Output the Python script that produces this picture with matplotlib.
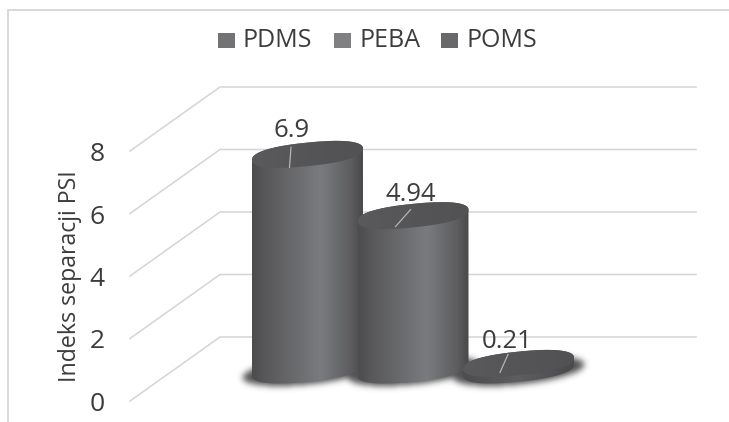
import numpy as np
import matplotlib
matplotlib.use('Agg')
import matplotlib.pyplot as plt
from matplotlib.colors import LinearSegmentedColormap
from matplotlib.patches import PathPatch, Rectangle
from matplotlib.path import Path

plt.rcParams['font.family'] = ['Open Sans', 'DejaVu Sans']

materials = ['PDMS', 'PEBA', 'POMS']
psi_values = [6.9, 4.94, 0.21]
value_labels = ['6.9', '4.94', '0.21']
y_ticks = [0, 2, 4, 6, 8]
legend_colors = ['#737375', '#808082', '#69696b']

W, H = 729, 422
PX_PER_CAT = 105.5    # odstep miedzy walcami
PX_PER_UNIT = 31.25   # piksele na jednostke PSI
ORIGIN_X, ORIGIN_Y = 307.5, 370    # srodek podstawy pierwszego walca
RADIUS_X, RADIUS_Y, TILT = 55.5, 11.8, 0.1
TEXT = '#3c3c3c'
GRID = '#d6d6d6'

body_cmap = LinearSegmentedColormap.from_list('body', [(0, '#4c4c4e'), (0.12, '#58585a'), (0.62, '#7a7b7e'), (0.9, '#5c5c5e'), (1, '#48484a')])
rim_cmap = LinearSegmentedColormap.from_list('rim', ['#4c4c4e', '#5e5e60', '#4a4a4c'])
top_cmap = LinearSegmentedColormap.from_list('top', ['#5a5a5c', '#555557', '#525254'])


def blur(arr, sigma):
    r = int(3 * sigma)
    k = np.exp(-0.5 * (np.arange(-r, r + 1) / sigma) ** 2)
    k /= k.sum()
    arr = np.apply_along_axis(lambda c: np.convolve(c, k, mode='same'), 0, arr)
    return np.apply_along_axis(lambda c: np.convolve(c, k, mode='same'), 1, arr)


def ellipse(cat, level, t):
    # skosna elipsa (lekko zaokraglone konce): piksele zamienione na jednostki osi
    c, s = np.cos(t), np.sin(t)
    xp = RADIUS_X * np.sign(c) * np.abs(c) ** 0.85
    yp = RADIUS_Y * np.sign(s) * np.abs(s) ** 0.85 + TILT * xp
    return cat + xp / PX_PER_CAT, level + yp / PX_PER_UNIT


def fill_gradient(ax, cat, level_lo, level_hi, verts, cmap, z):
    ext = [cat - RADIUS_X / PX_PER_CAT, cat + RADIUS_X / PX_PER_CAT,
           level_lo - 1, level_hi + 1]
    im = ax.imshow(np.linspace(0, 1, 256)[None, :], extent=ext, aspect='auto',
                   cmap=cmap, zorder=z, interpolation='bilinear')
    im.set_clip_path(PathPatch(Path(verts), transform=ax.transData))


fig = plt.figure(figsize=(W / 100, H / 100), dpi=100)

# warstwa tla: ramka, siatka, legenda
bg = fig.add_axes([0, 0, 1, 1])
bg.set_xlim(0, W)
bg.set_ylim(H, 0)
bg.axis('off')
bg.plot([8.5, 8.5, W], [H, 9.5, 9.5], color=GRID, lw=1.3, solid_joinstyle='miter')
for v in y_ticks:
    back = ORIGIN_Y - 33 - v * PX_PER_UNIT
    bg.plot([130, 220, 696], [back + 64, back, back], color=GRID, lw=1.15)
    bg.text(97, back + 67.5, str(v), ha='center', va='center', fontsize=19, color=TEXT)
bg.text(70, 276, 'Indeks separacji PSI', rotation=90, ha='center', va='center',
        fontsize=16.7, color=TEXT)
for name, col, xs, xt in zip(materials, legend_colors, [218, 334, 441], [243, 360, 467]):
    bg.add_patch(Rectangle((xs, 32.5), 17, 15, color=col, lw=0))
    bg.text(xt, 47, name, ha='left', va='baseline', fontsize=18, color=TEXT)

# cien pod walcami
yy, xx = np.mgrid[0:H, 0:W]
mask = np.zeros((H, W))
for i in range(len(materials)):
    cx = ORIGIN_X + i * PX_PER_CAT
    dx = xx - cx
    dy = yy - (ORIGIN_Y + 0.5) + TILT * dx
    mask = np.maximum(mask, ((dx / (RADIUS_X + 10)) ** 2 + (dy / (RADIUS_Y + 1.5)) ** 2 <= 1).astype(float))
shadow = blur(mask, 3.2)
rgba = np.zeros((H, W, 4))
rgba[..., :3] = 0.2
rgba[..., 3] = shadow * 0.85
bg.imshow(rgba, extent=[0, W, H, 0], aspect='auto', zorder=3)
bg.set_xlim(0, W)
bg.set_ylim(H, 0)

# walce w jednostkach osi
ax = fig.add_axes([0, 0, 1, 1])
ax.patch.set_alpha(0)
ax.axis('off')
xlim = (-ORIGIN_X / PX_PER_CAT, (W - ORIGIN_X) / PX_PER_CAT)
ylim = ((ORIGIN_Y - H) / PX_PER_UNIT, ORIGIN_Y / PX_PER_UNIT)

label_dx = [-16, -2, -11]
label_dy = [24, 21, 21.5]
leader = [((-16.5, 7), (-18, -13)), ((-2.5, 6), (-17.5, -11)), ((-10.5, 9), (-18.5, -9))]
t_top = np.linspace(0, np.pi, 90)
t_bot = np.linspace(np.pi, 2 * np.pi, 90)
t_all = np.linspace(0, 2 * np.pi, 180)
for i, (val, lab) in enumerate(zip(psi_values, value_labels)):
    z = 5 + i * 3
    bx, by = ellipse(i, 0, t_bot)
    tx, ty = ellipse(i, val, t_top)
    body = np.column_stack([np.r_[bx, tx], np.r_[by, ty]])
    body = np.vstack([body, body[0]])
    fill_gradient(ax, i, 0, val, body, body_cmap if val > 1 else rim_cmap, z)
    ex, ey = ellipse(i, val, t_all)
    top = np.column_stack([ex, ey])
    fill_gradient(ax, i, val, val, top, top_cmap, z + 1)
    (x0, y0), (x1, y1) = leader[i]
    ax.plot([i + x0 / PX_PER_CAT, i + x1 / PX_PER_CAT],
            [val + y0 / PX_PER_UNIT, val + y1 / PX_PER_UNIT],
            color='#b4b4b4', lw=0.9, zorder=z + 2)
    ax.text(i + label_dx[i] / PX_PER_CAT, val + label_dy[i] / PX_PER_UNIT, lab,
            ha='center', va='center', fontsize=18.5, color=TEXT, zorder=20)
ax.set_xlim(*xlim)
ax.set_ylim(*ylim)

fig.savefig('out.png', dpi=100)
plt.close('all')
